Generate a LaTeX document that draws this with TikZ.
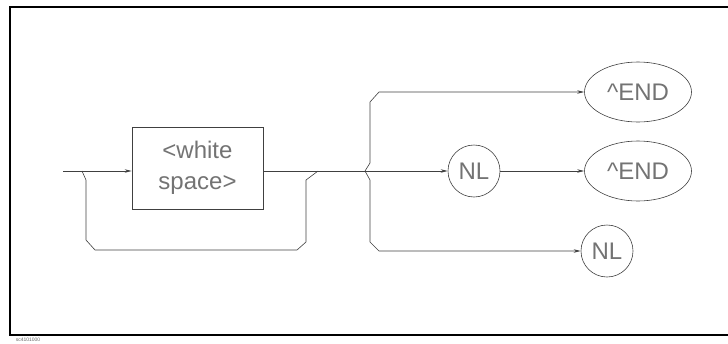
\documentclass[tikz,border=0pt]{standalone}
\usepackage{fontspec}
\setmainfont{Liberation Sans}
\usetikzlibrary{shapes.geometric,arrows.meta,calc}

\tikzset{
  line/.style={draw=black!75, line width=0.6pt},
  arr/.style={line, -{Stealth[length=7pt,width=3.5pt]}},
  lbl/.style={text=black!55, font=\fontsize{24}{31}\selectfont, inner sep=0pt},
  rnd/.style={circle, line, lbl, minimum size=52pt},
  oval/.style={ellipse, line, lbl, minimum width=107pt, minimum height=60pt},
}

\begin{document}
\begin{tikzpicture}[x=1pt, y=-1pt]
  \useasboundingbox (0,0) rectangle (728,343);

  % frame, right side runs off the page
  \draw[line width=2.5pt] (728,7) -- (10,7) -- (10,335) -- (728,335);
  \node[font=\fontsize{5}{5}\selectfont, text=black!60] (fig) at (28,340) {sc4101000};

  % box and terminals
  \node[line, lbl, minimum width=131pt, minimum height=82pt, align=center] (ws) at (197.5,168) {<white\\space>};
  \node[rnd] (nl1) at (474,171) {NL};
  \node[oval] (end1) at (638,92) {\textasciicircum END};
  \node[oval] (end2) at (638,171) {\textasciicircum END};
  \node[rnd] (nl2) at (607,251) {NL};

  % main line
  \coordinate (in) at (63,171);
  \coordinate (loopin) at (82,171);
  \coordinate (loopout) at (318,171);
  \coordinate (fork) at (365,171);
  \draw[arr] (in) -- (ws.west |- in);
  \draw[line] (ws.east |- in) -- (fork);

  % loop back round the box
  \draw[line] (loopin) -- ++(4,9) -- (86,240) -- ++(9,10) -- (297,250) -- ++(9,-8) -- (306,180) -- (loopout);

  % branches
  \draw[arr] (fork) -- (nl1);
  \draw[arr] (nl1) -- (end2);
  \draw[arr] (fork) -- ++(5,-8) -- (370,102) -- (379,92) -- (end1.west);
  \draw[arr] (fork) -- ++(5,9) -- (370,242) -- (379,251) -- (nl2.west);

\end{tikzpicture}
\end{document}
